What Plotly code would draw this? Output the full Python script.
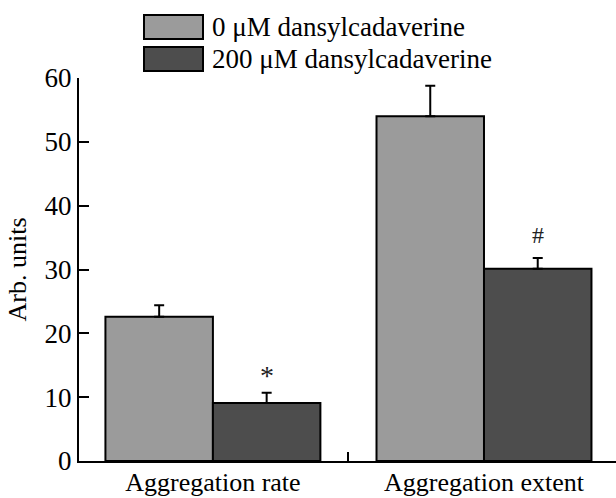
import plotly.graph_objects as go

categories = ["Aggregation rate", "Aggregation extent"]
series_names = ["0 \u03bcM dansylcadaverine", "200 \u03bcM dansylcadaverine"]
control_values = [22.6, 54.0]
control_errors = [1.8, 4.8]
treated_values = [9.1, 30.1]
treated_errors = [1.6, 1.7]
significance_marks = ["*", "#"]
y_ticks = [0, 10, 20, 30, 40, 50, 60]

colors = ["#9b9b9b", "#4d4d4d"]
FONT = "Liberation Serif, Times New Roman, serif"
W, H = 616, 498
ML, MR, MT, MB = 79, 0, 78, 37
BARGAP = 0.207

fig = go.Figure()
for name, vals, errs, col in [
    (series_names[0], control_values, control_errors, colors[0]),
    (series_names[1], treated_values, treated_errors, colors[1]),
]:
    fig.add_trace(go.Bar(
        x=categories, y=vals, name=name,
        marker=dict(color=col, line=dict(color="black", width=2)),
        error_y=dict(type="data", symmetric=False, array=errs,
                     arrayminus=[0] * len(errs), color="black",
                     thickness=2, width=5),
        showlegend=False,
    ))

# significance marks above treated bars
bar_w = (1 - BARGAP) / 2
for i, (mark, v, e, sz, sh) in enumerate(zip(significance_marks, treated_values,
                                             treated_errors, [28, 24], [0, 8])):
    fig.add_annotation(x=i + bar_w / 2, y=v + e, text=mark, showarrow=False,
                       yanchor="bottom", yshift=sh,
                       font=dict(family=FONT, size=sz, color="#222"))

# legend drawn manually (large swatches)
pw = W - ML - MR
ph = H - MT - MB
def px_x(x):
    return (x - ML) / pw
def px_y(y):
    return (H - MB - y) / ph

legend_rows = [(15, 39), (47, 71)]
for (y0, y1), name, col in zip(legend_rows, series_names, colors):
    fig.add_shape(type="rect", xref="paper", yref="paper",
                  x0=px_x(144), x1=px_x(203), y0=px_y(y1), y1=px_y(y0),
                  fillcolor=col, line=dict(color="black", width=2))
    fig.add_annotation(xref="paper", yref="paper", x=px_x(210), y=px_y((y0 + y1) / 2),
                       xanchor="left", yanchor="middle", text=name, showarrow=False,
                       font=dict(family=FONT, size=27, color="black"))

fig.update_layout(
    width=W, height=H,
    margin=dict(l=ML, r=MR, t=MT, b=MB),
    paper_bgcolor="white", plot_bgcolor="white",
    barmode="group", bargap=BARGAP, bargroupgap=0,
    font=dict(family=FONT, size=27, color="black"),
    xaxis=dict(type="category", range=[-0.494, 1.487], showline=True, automargin=False,
               linecolor="black", linewidth=2, ticks="inside", tickson="boundaries",
               ticklen=9, tickwidth=2, tickcolor="black", showgrid=False,
               ticklabelstandoff=-3,
               tickfont=dict(family=FONT, size=26, color="black"), zeroline=False),
    yaxis=dict(range=[0, 60], tickvals=y_ticks, showline=True, linecolor="black",
               automargin=False,
               linewidth=2, ticks="inside", ticklen=10, tickwidth=2, tickcolor="black",
               showgrid=False, zeroline=False,
               tickfont=dict(family=FONT, size=27, color="black"),
               title=dict(text="Arb. units", standoff=10,
                          font=dict(family=FONT, size=26, color="black"))),
)

fig.write_html("out.html")
